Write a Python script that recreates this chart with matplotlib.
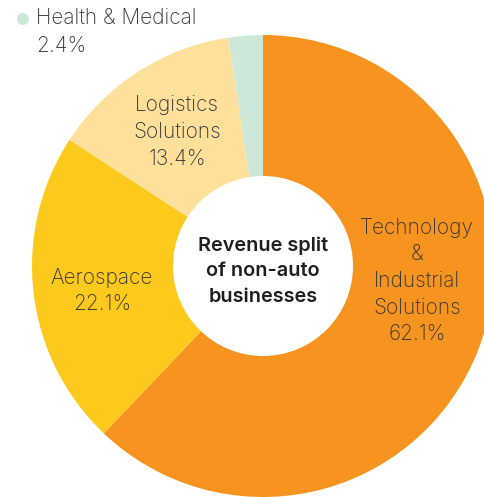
import matplotlib
matplotlib.use("Agg")
import matplotlib.pyplot as plt
from matplotlib.patches import Circle

# Revenue split of non-auto businesses (%)
segments = ["Technology\n&\nIndustrial\nSolutions", "Aerospace", "Logistics\nSolutions", "Health & Medical"]
shares = [62.1, 22.1, 13.4, 2.4]
colors = ["#F7941F", "#FDC91C", "#FEE09B", "#CDE8D9"]
center_title = "Revenue split\nof non-auto\nbusinesses"

W, H = 485, 497
fig = plt.figure(figsize=(W / 100, H / 100), dpi=100)
ax = fig.add_axes([0, 0, 1, 1])

cx, cy = 263, H - 266
R = 231
ax.pie(shares, colors=colors, startangle=90, counterclock=False,
       center=(cx, cy), radius=R, frame=True,
       wedgeprops=dict(linewidth=0))
ax.set_xlim(0, W)
ax.set_ylim(0, H)
ax.set_aspect("equal")
ax.axis("off")
ax.add_patch(Circle((cx, cy), 90, facecolor="white", edgecolor="none", zorder=3))

txt_color = "#333333"
fam = ["Inter", "DejaVu Sans"]
fs = 15.0
lab_kw = dict(ha="center", va="center", color=txt_color, fontsize=fs,
              family=fam, fontweight="light", linespacing=1.42, zorder=4)

ax.text(417, H - 281, f"{segments[0]}\n{shares[0]:.1f}%", **lab_kw)
ax.text(102, H - 291, f"{segments[1]}\n{shares[1]:.1f}%", **lab_kw)
ax.text(177, H - 132, f"{segments[2]}\n{shares[2]:.1f}%", **lab_kw)

# Legend-style label for the smallest slice
ax.add_patch(Circle((23, H - 19), 6, facecolor=colors[3], edgecolor="none", zorder=4))
ax.text(36, H - 32, f"{segments[3]}\n{shares[3]:.1f}%", ha="left", va="center",
        color=txt_color, fontsize=fs, family=fam, fontweight="light",
        linespacing=1.48, zorder=4)

ax.text(cx, H - 271, center_title, ha="center", va="center", color="#1e1e1e",
        fontsize=14.3, family=fam, fontweight="semibold", linespacing=1.55, zorder=4)

fig.savefig("out.png", dpi=100)
